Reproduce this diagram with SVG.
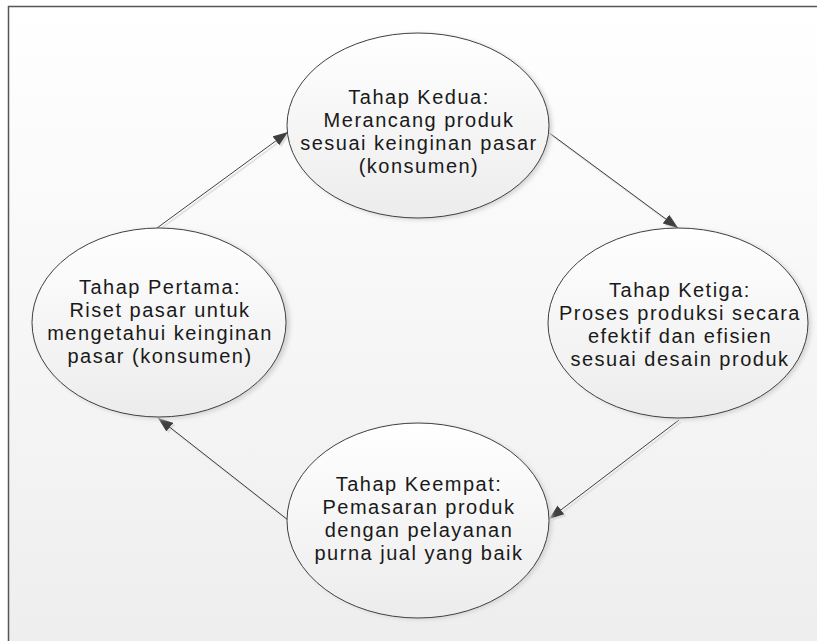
<svg xmlns="http://www.w3.org/2000/svg" width="817" height="641" viewBox="0 0 817 641">
  <defs>
    <linearGradient id="bg" x1="0" y1="0" x2="0" y2="1">
      <stop offset="0" stop-color="#ffffff"/>
      <stop offset="1" stop-color="#eeeeee"/>
    </linearGradient>
    <linearGradient id="nodeFill" x1="0" y1="0" x2="0" y2="1">
      <stop offset="0" stop-color="#ffffff"/>
      <stop offset="1" stop-color="#ececec"/>
    </linearGradient>
    <filter id="soft" x="-20%" y="-20%" width="140%" height="140%">
      <feGaussianBlur stdDeviation="2"/>
    </filter>
    <marker id="head" markerUnits="userSpaceOnUse" markerWidth="16" markerHeight="12" refX="15" refY="6" orient="auto">
      <path d="M0,0.5 L15,6 L0,11.5 Z" fill="#3f3f3f"/>
    </marker>
    <marker id="headShadow" markerUnits="userSpaceOnUse" markerWidth="16" markerHeight="12" refX="15" refY="6" orient="auto">
      <path d="M0,0.5 L15,6 L0,11.5 Z" fill="#dedede"/>
    </marker>
  </defs>
  <style>
    .node { fill: url(#nodeFill); stroke: #404040; stroke-width: 1; }
    .shadow { fill: #d4d4d4; filter: url(#soft); }
    .label { font-family: "Liberation Sans", Arial, sans-serif; font-size: 20px; letter-spacing: 1.5px; fill: #1a1a1a; text-anchor: middle; }
    .edge { stroke: #404040; stroke-width: 1; fill: none; marker-end: url(#head); }
    .edge-shadow { stroke: #e2e2e2; stroke-width: 2; fill: none; marker-end: url(#headShadow); }
  </style>

  <!-- page background and frame (top and left edges only) -->
  <rect x="0" y="0" width="817" height="641" fill="#ffffff"/>
  <rect x="8.5" y="6.5" width="808.5" height="634.5" fill="url(#bg)"/>
  <path d="M8.5,641 V6.5 H817" fill="none" stroke="#555555" stroke-width="1.5"/>

  <!-- connectors -->
  <g id="connectors">
    <g transform="translate(2,2)">
      <line class="edge-shadow" x1="157" y1="228" x2="288" y2="132"/>
      <line class="edge-shadow" x1="548" y1="132" x2="678" y2="228"/>
      <line class="edge-shadow" x1="679" y1="420" x2="549" y2="519"/>
      <line class="edge-shadow" x1="288" y1="520" x2="158" y2="418"/>
    </g>
    <line class="edge" x1="157" y1="228" x2="288" y2="132"/>
    <line class="edge" x1="548" y1="132" x2="678" y2="228"/>
    <line class="edge" x1="679" y1="420" x2="549" y2="519"/>
    <line class="edge" x1="288" y1="520" x2="158" y2="418"/>
  </g>

  <!-- stage 1 -->
  <g id="tahap-pertama">
    <ellipse class="shadow" cx="162" cy="324" rx="128" ry="95"/>
    <ellipse class="node" cx="159" cy="322.5" rx="127" ry="94.5"/>
    <text class="label" x="160" y="293.5">Tahap Pertama:</text>
    <text class="label" x="160" y="316.5">Riset pasar untuk</text>
    <text class="label" x="160" y="339.5">mengetahui keinginan</text>
    <text class="label" x="160" y="362.5">pasar (konsumen)</text>
  </g>

  <!-- stage 2 -->
  <g id="tahap-kedua">
    <ellipse class="shadow" cx="421" cy="127" rx="131" ry="93"/>
    <ellipse class="node" cx="418" cy="125.5" rx="131" ry="92.5"/>
    <text class="label" x="419" y="103.5">Tahap Kedua:</text>
    <text class="label" x="419" y="126.5">Merancang produk</text>
    <text class="label" x="419" y="149.5">sesuai keinginan pasar</text>
    <text class="label" x="419" y="172.5">(konsumen)</text>
  </g>

  <!-- stage 3 -->
  <g id="tahap-ketiga">
    <ellipse class="shadow" cx="681" cy="324.5" rx="130" ry="95.5"/>
    <ellipse class="node" cx="678" cy="323" rx="130" ry="95"/>
    <text class="label" x="680" y="297">Tahap Ketiga:</text>
    <text class="label" x="680" y="320">Proses produksi secara</text>
    <text class="label" x="680" y="343">efektif dan efisien</text>
    <text class="label" x="680" y="366">sesuai desain produk</text>
  </g>

  <!-- stage 4 -->
  <g id="tahap-keempat">
    <ellipse class="shadow" cx="421" cy="522" rx="131" ry="97.5"/>
    <ellipse class="node" cx="418" cy="520.5" rx="131" ry="97.5"/>
    <text class="label" x="419" y="491">Tahap Keempat:</text>
    <text class="label" x="419" y="514">Pemasaran produk</text>
    <text class="label" x="419" y="537">dengan pelayanan</text>
    <text class="label" x="419" y="560">purna jual yang baik</text>
  </g>
</svg>
